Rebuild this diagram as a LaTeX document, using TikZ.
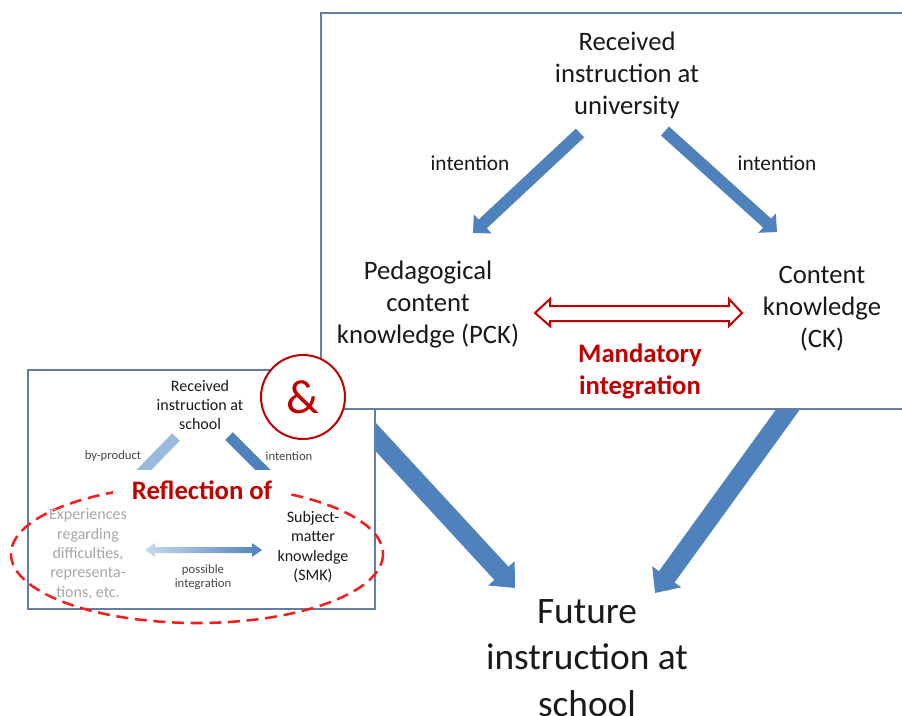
\documentclass[tikz,border=0pt]{standalone}
\usepackage{fontspec}
\setmainfont{Carlito}
\usetikzlibrary{arrows.meta}

\definecolor{arrowblue}{RGB}{79,129,189}
\definecolor{lightblue}{RGB}{155,187,222}
\definecolor{paleblue}{RGB}{200,218,238}
\definecolor{darkred}{RGB}{192,0,0}
\definecolor{dashred}{RGB}{245,30,30}
\definecolor{framecol}{RGB}{100,125,165}
\definecolor{textcol}{RGB}{25,25,25}
\definecolor{greytext}{RGB}{166,166,166}

\begin{document}
\begin{tikzpicture}[x=0.75pt,y=0.75pt,yscale=-1,xscale=1,
  bigarrow/.style={color=arrowblue, line width=14.5pt, -{Triangle[width=26pt,length=15pt]}},
  midarrow/.style={color=arrowblue, line width=9pt, -{Triangle[width=19pt,length=10pt]}},
  shaft/.style={line width=8pt},
  frame/.style={draw=framecol, line width=1.5pt, fill=white},
  bigtxt/.style={align=center, inner sep=0.75pt, text=textcol, font=\fontsize{20pt}{24pt}\selectfont},
  smalltxt/.style={align=center, inner sep=0.75pt, text=textcol, font=\fontsize{12pt}{14.5pt}\selectfont},
  tinytxt/.style={align=center, inner sep=0.75pt, text=textcol!80, font=\fontsize{9.5pt}{10.5pt}\selectfont},
  redtxt/.style={align=center, inner sep=0.75pt, text=darkred, font=\bfseries\fontsize{20pt}{24pt}\selectfont}
]
\useasboundingbox (0,0) rectangle (902,715);

%Coordinates for the arrow ends
\coordinate (uL) at (580,133);
\coordinate (uR) at (665,131);
\coordinate (pT) at (473,233);
\coordinate (cT) at (777,232);
\coordinate (sA) at (360,420);
\coordinate (cA) at (797,397);
\coordinate (fL) at (515,588);
\coordinate (fR) at (655,593);
\coordinate (mL) at (535,313);
\coordinate (iL) at (145,550);
\coordinate (bT) at (176,437);
\coordinate (bB) at (138,476);
\coordinate (tT) at (229,436);
\coordinate (tB) at (269,476);

%Big arrows to future instruction (behind the boxes)
\draw [bigarrow] (sA) -- (fL);
\draw [bigarrow] (cA) -- (fR);

%Shape: small box
\draw [frame] (28,370) rectangle (375,609);

%Small arrows from school (cut by the title)
\draw [shaft, color=lightblue] (bT) -- (bB);
\draw [shaft, color=arrowblue] (tT) -- (tB);

% Text Node
\draw (200,405) node (school) [smalltxt] {Received\\instruction at\\school};
% Text Node
\draw (113,456) node (byprod) [tinytxt] {by-product};
% Text Node
\draw (289,456) node (intS) [tinytxt] {intention};

%Shape: dashed ellipse
\draw [color=dashred, line width=1.9pt, dash pattern=on 9pt off 5pt] (197,554) ellipse [x radius=186, y radius=69];

% Text Node
\draw (202,490) node (refl) [redtxt, fill=white, inner xsep=14pt, inner ysep=8pt] {Reflection of};
% Text Node
\draw (88,554) node (exp) [smalltxt, text=greytext] {Experiences\\regarding\\difficulties,\\representa-\\tions, etc.};
% Text Node
\draw (313,547) node (smk) [smalltxt] {Subject-\\matter\\knowledge\\(SMK)};

%Shape: gradient double arrow
\draw [draw=none, left color=paleblue, right color=arrowblue] (iL) -- ++(10,-7) -- ++(0,4) -- ++(97,0) -- ++(0,-4) -- ++(10,7) -- ++(-10,7) -- ++(0,-4) -- ++(-97,0) -- ++(0,4) -- cycle;
% Text Node
\draw (203,577) node (poss) [tinytxt] {possible\\integration};

%Shape: big box
\draw [frame] (321,13) rectangle (915,409);

%Arrows from university
\draw [midarrow] (uL) -- (pT);
\draw [midarrow] (uR) -- (cT);

% Text Node
\draw (627,75) node (uni) [bigtxt] {Received\\instruction at\\university};
% Text Node
\draw (470,163) node (intL) [bigtxt, font=\fontsize{16pt}{19pt}\selectfont] {intention};
% Text Node
\draw (777,163) node (intR) [bigtxt, font=\fontsize{16pt}{19pt}\selectfont] {intention};
% Text Node
\draw (428,305) node (pck) [bigtxt] {Pedagogical\\content\\knowledge (PCK)};
% Text Node
\draw (822,309) node (ck) [bigtxt] {Content\\knowledge\\(CK)};

%Shape: hollow double arrow
\draw [draw=darkred, line width=1.5pt, fill=white, line join=miter] (mL) -- ++(15,-14) -- ++(0,7) -- ++(179,0) -- ++(0,-7) -- ++(13,14) -- ++(-13,13) -- ++(0,-5) -- ++(-179,0) -- ++(0,5) -- cycle;
% Text Node
\draw (640,371) node (mand) [redtxt] {Mandatory\\integration};

%Shape: circle with ampersand
\draw [draw=darkred, line width=1.5pt, fill=white] (303,397) circle [radius=42];
\draw (303,397) node (amp) [inner sep=0pt, text=darkred, font=\fontsize{36pt}{40pt}\selectfont] {\&};

% Text Node
\draw (587,658) node (future) [bigtxt, font=\fontsize{28pt}{35pt}\selectfont] {Future\\instruction at\\school};

\end{tikzpicture}
\end{document}
